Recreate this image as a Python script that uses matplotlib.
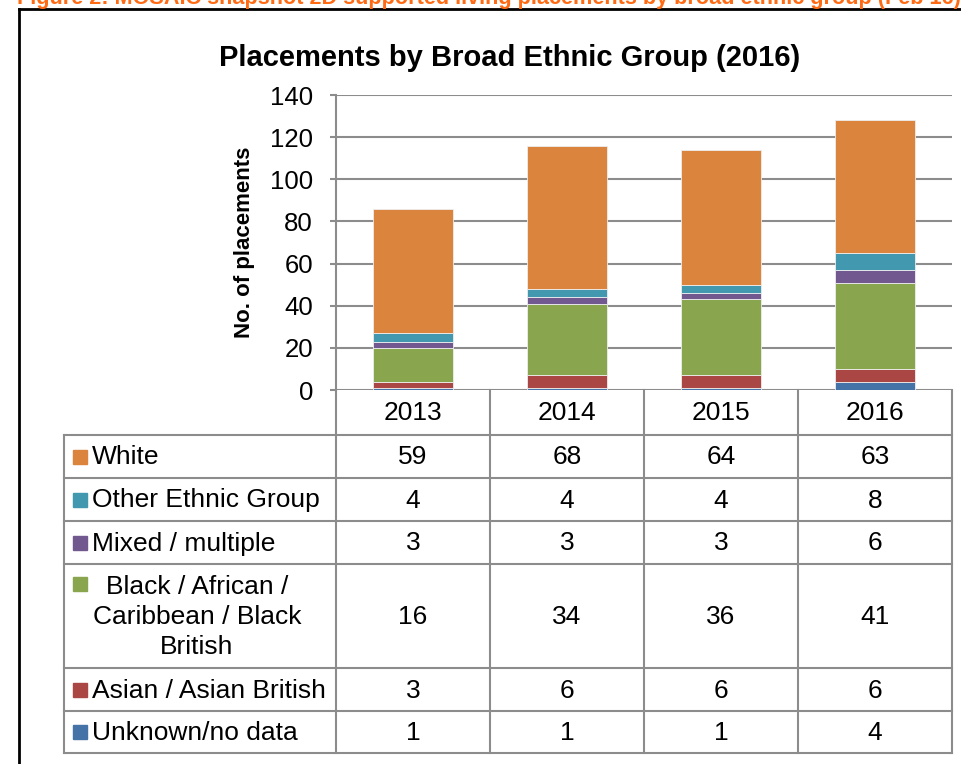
import numpy as np
import matplotlib
matplotlib.use("Agg")
import matplotlib.pyplot as plt

plt.rcParams["font.family"] = ["Liberation Sans", "DejaVu Sans"]

# ------------------------------------------------------------
# data (stack order bottom -> top)
# ------------------------------------------------------------
years = ["2013", "2014", "2015", "2016"]
groups = ["Unknown/no data", "Asian / Asian British",
          "Black / African /\nCaribbean / Black\nBritish",
          "Mixed / multiple", "Other Ethnic Group", "White"]
unknown = [1, 1, 1, 4]
asian = [3, 6, 6, 6]
black = [16, 34, 36, 41]
mixed = [3, 3, 3, 6]
other = [4, 4, 4, 8]
white = [59, 68, 64, 63]
series = [unknown, asian, black, mixed, other, white]
colors = ["#4572A7", "#AA4643", "#89A54E", "#71588F", "#4198AF", "#DB843D"]
yticks = [0, 20, 40, 60, 80, 100, 120, 140]

title = "Placements by Broad Ethnic Group (2016)"
caption = ("Figure 2: MOSAIC snapshot 2D supported living placements "
           "by broad ethnic group (Feb 16)")

W, H = 962, 764
grey = "#8C8C8C"
fs = 19

fig = plt.figure(figsize=(W / 100, H / 100), dpi=100)
fig.patch.set_facecolor("white")

# plot area in pixels: left 336, right 952, top 95, bottom 390
pl, pr, pt, pb = 336, 952, 95, 390
ax = fig.add_axes([pl / W, 1 - pb / H, (pr - pl) / W, (pb - pt) / H])

x = np.arange(len(years))
bottom = np.zeros(len(years))
for vals, c in zip(series, colors):
    ax.bar(x, vals, bottom=bottom, width=0.52, color=c,
           edgecolor="#EEEEEE", linewidth=0.6, zorder=3)
    bottom += np.array(vals)

ax.set_xlim(-0.5, len(years) - 0.5)
ax.set_ylim(0, 140)
ax.set_yticks(yticks)
ax.set_yticklabels([str(t) for t in yticks], fontsize=18.5)
ax.set_xticks([])
ax.yaxis.grid(True, color=grey, linewidth=1.5, zorder=0)
ax.tick_params(axis="y", length=4, width=1.5, color=grey, pad=12.5)
for s in ["top", "right", "bottom"]:
    ax.spines[s].set_visible(False)
ax.spines["left"].set_color(grey)
ax.spines["left"].set_linewidth(1.5)

# ------------------------------------------------------------
# overlay in pixel coordinates for table, title, frame
# ------------------------------------------------------------
ov = fig.add_axes([0, 0, 1, 1], zorder=5)
ov.set_xlim(0, W)
ov.set_ylim(H, 0)
ov.axis("off")
ov.patch.set_alpha(0)

# outer frame & cut-off caption
ov.plot([19, 19], [9, H], color="black", lw=2)
ov.plot([19, W], [9, 9], color="black", lw=2)
ov.text(17, 4, caption, color="#FF6A13", fontsize=15.6, fontweight="bold",
        va="baseline", ha="left")

ov.text(510, 66, title, fontsize=21, fontweight="bold",
        ha="center", va="baseline")
ov.text(245, 242, "No. of placements", rotation=90, fontsize=16,
        fontweight="bold", ha="center", va="center")

# table geometry
tl = 64
col_edges = [pl + i * (pr - pl) / len(years) for i in range(len(years) + 1)]
row_edges = [390, 435, 478, 521, 564, 668, 711, 753]
lw = 1.5

for xe in col_edges:
    ov.plot([xe, xe], [row_edges[0], row_edges[-1]], color=grey, lw=lw)
ov.plot([tl, tl], [row_edges[1], row_edges[-1]], color=grey, lw=lw)
for ye in row_edges[1:]:
    ov.plot([tl, pr], [ye, ye], color=grey, lw=lw)

# header row (years)
for i, yr in enumerate(years):
    xc = (col_edges[i] + col_edges[i + 1]) / 2
    ov.text(xc, (row_edges[0] + row_edges[1]) / 2 + 1, yr, fontsize=fs,
            ha="center", va="center")

# body rows (top -> bottom = reverse stack order)
for r, k in enumerate(range(len(groups) - 1, -1, -1)):
    y0, y1 = row_edges[r + 1], row_edges[r + 2]
    yc = (y0 + y1) / 2 + 1
    name = groups[k]
    if "\n" in name:
        ov.add_patch(plt.Rectangle((73, y0 + 13), 14, 14, color=colors[k]))
        ov.text(197, yc, name, fontsize=fs, ha="center", va="center",
                multialignment="center", linespacing=1.3)
    else:
        ov.add_patch(plt.Rectangle((73, yc - 8), 14, 14, color=colors[k]))
        ov.text(92, yc, name, fontsize=fs, ha="left", va="center")
    for i in range(len(years)):
        xc = (col_edges[i] + col_edges[i + 1]) / 2
        ov.text(xc, yc, str(series[k][i]), fontsize=fs,
                ha="center", va="center")

fig.savefig("out.png", dpi=100)
